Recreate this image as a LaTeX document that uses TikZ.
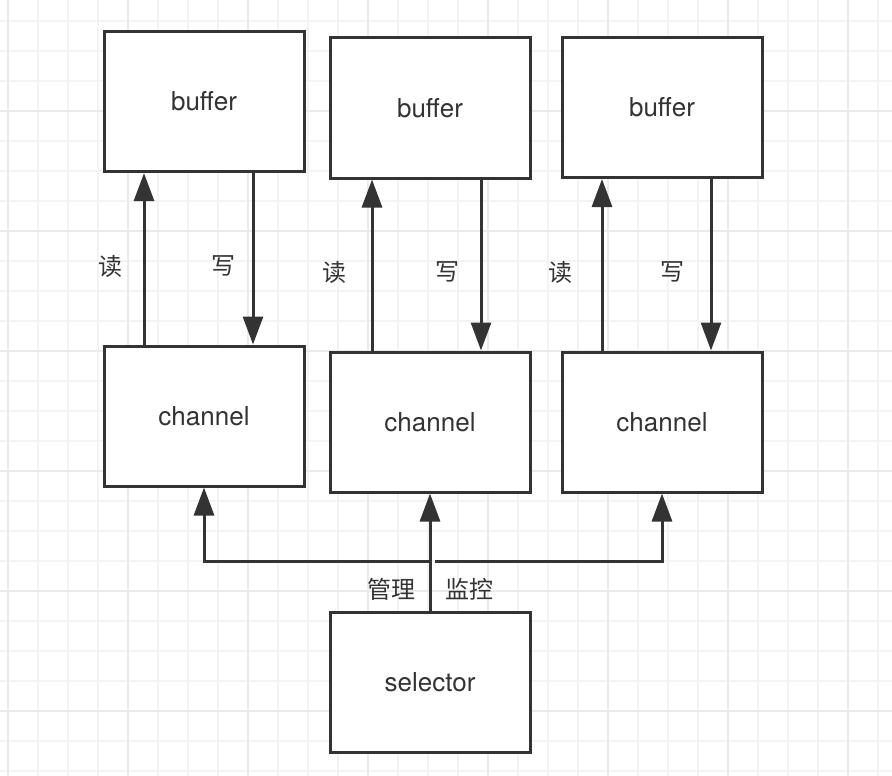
\documentclass[tikz,border=0pt]{standalone}
\usepackage{fontspec}
\setmainfont{TeX Gyre Heros}
\newfontfamily\cjk{Noto Sans CJK SC}
\usetikzlibrary{arrows.meta}
\definecolor{ink}{HTML}{333333}
\definecolor{gminor}{HTML}{F3F3F3}
\definecolor{gmajor}{HTML}{EAEAEA}
\tikzset{
  box/.style={draw=ink, line width=3pt, fill=white, minimum width=200pt, minimum height=140pt, inner sep=0pt, text=ink, font=\fontsize{26}{30}\selectfont},
  arr/.style={draw=ink, line width=3pt, -{Triangle[length=28pt,width=20pt]}},
  lbl/.style={text=ink, inner sep=0pt, font=\cjk\fontsize{24}{28}\selectfont},
  gridminor/.style={draw=gminor, line width=2pt},
  gridmajor/.style={draw=gmajor, line width=2pt}
}
\begin{document}
\begin{tikzpicture}[x=1pt,y=-1pt]
\useasboundingbox (0,0) rectangle (892,776);
\fill[white] (0,0) rectangle (892,776);
% grid
\foreach \i in {0,...,29} \draw[gridminor] (8+30*\i,0) -- (8+30*\i,776);
\foreach \j in {0,...,25} \draw[gridminor] (0,20.7+30*\j) -- (892,20.7+30*\j);
\foreach \i in {0,4,...,28} \draw[gridmajor] (8+30*\i,0) -- (8+30*\i,776);
\foreach \j in {3,7,...,23} \draw[gridmajor] (0,20.7+30*\j) -- (892,20.7+30*\j);
% boxes
\node[box] (b1) at (204,101.6) {buffer};
\node[box] (b2) at (430,108) {buffer};
\node[box] (b3) at (662,107.5) {buffer};
\node[box] (c1) at (204,416) {channel};
\node[box] (c2) at (430,422) {channel};
\node[box] (c3) at (662,422) {channel};
\node[box] (s) at (430,682) {selector};
% read / write arrows
\draw[arr] ([xshift=-60pt]c1.north) -- ([xshift=-60pt]b1.south);
\draw[arr] ([xshift=49pt]b1.south) -- ([xshift=49pt]c1.north);
\draw[arr] ([xshift=-58pt]c2.north) -- ([xshift=-58pt]b2.south);
\draw[arr] ([xshift=51pt]b2.south) -- ([xshift=51pt]c2.north);
\draw[arr] ([xshift=-60pt]c3.north) -- ([xshift=-60pt]b3.south);
\draw[arr] ([xshift=49pt]b3.south) -- ([xshift=49pt]c3.north);
\node[lbl] (r1) at (110,266) {读};
\node[lbl] (w1) at (223,266) {写};
\node[lbl] (r2) at (334,272) {读};
\node[lbl] (w2) at (447,272) {写};
\node[lbl] (r3) at (560,272) {读};
\node[lbl] (w3) at (672,272) {写};
% selector connectors
\coordinate (jl) at (430,561);
\coordinate (jr) at (435,561);
\draw[arr] (s.north) -- (c2.south);
\draw[arr] (jl) -| (c1.south);
\draw[arr] (jr) -| (c3.south);
\node[lbl] (m1) at (391,589) {管理};
\node[lbl] (m2) at (469,589) {监控};
\end{tikzpicture}
\end{document}
